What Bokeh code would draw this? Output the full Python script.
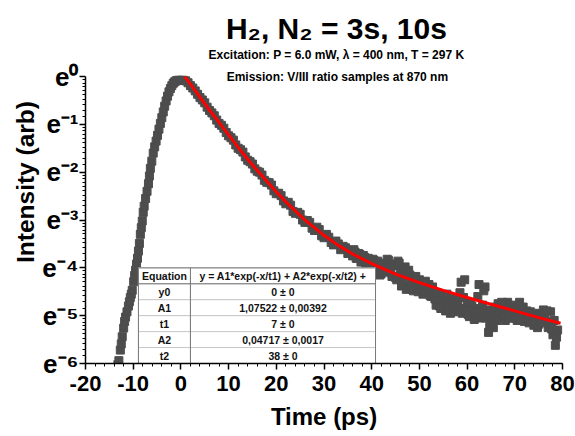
import math
from bokeh.plotting import figure
from bokeh.models import FixedTicker, Label
from bokeh.core.properties import value
from bokeh.embed import file_html
from bokeh.resources import INLINE

# ---------------- texts ----------------
title_text = "H₂, N₂ = 3s, 10s"
subtitle1 = "Excitation: P = 6.0 mW, λ = 400 nm, T = 297 K"
subtitle2 = "Emission: V/III ratio samples at 870 nm"
x_label = "Time (ps)"
y_label = "Intensity (arb)"

x_ticks = [-20, -10, 0, 10, 20, 30, 40, 50, 60, 70, 80]
y_ticks = [-6, -5, -4, -3, -2, -1, 0]          # exponent of e
y_tick_labels = ["e⁻⁶", "e⁻⁵", "e⁻⁴", "e⁻³", "e⁻²", "e⁻¹", "e⁰"]

# ---------------- data (ln of intensity) ----------------
rise_time = [-13.2, -13.0, -12.7, -12.5, -12.3, -12.0, -11.8, -11.6, -11.3, -11.0,
             -10.8, -10.6, -10.4, -10.2, -9.9, -9.7, -9.5, -9.3, -9.1, -8.9,
             -8.7, -8.5, -8.3, -8.1, -7.9, -7.7, -7.4, -7.1, -6.8, -6.6,
             -6.4, -6.1, -5.8, -5.5, -5.2, -4.9, -4.6, -4.3, -4.0, -3.7,
             -3.4, -3.1, -2.8, -2.5, -2.2, -1.9, -1.6, -1.3, -1.0, -0.7,
             -0.4, -0.1, 0.2, 0.5]
rise_ln = [-6.02, -5.94, -5.72, -5.59, -5.44, -5.26, -5.12, -5.03, -4.92, -4.80,
           -4.71, -4.62, -4.55, -4.47, -4.29, -4.16, -4.05, -3.92, -3.80, -3.65,
           -3.49, -3.30, -3.16, -3.02, -2.84, -2.71, -2.55, -2.40, -2.24, -2.08,
           -1.92, -1.77, -1.60, -1.47, -1.35, -1.23, -1.10, -0.98, -0.86, -0.74,
           -0.62, -0.51, -0.41, -0.32, -0.25, -0.19, -0.14, -0.11, -0.09, -0.08,
           -0.08, -0.08, -0.08, -0.08]

decay_time = [1.0, 1.5, 2.0, 2.5, 3.0, 3.5, 4.0, 4.5, 5.0, 5.5, 6.0, 6.5, 7.0, 7.5, 8.0,
              8.5, 9.0, 9.5, 10.0, 10.5, 11.0, 11.5, 12.0, 12.5, 13.0, 13.5, 14.0, 14.5,
              15.0, 15.5, 16.0, 16.5, 17.0, 17.5, 18.0, 18.5, 19.0, 19.5, 20.0, 20.5,
              21.0, 21.5, 22.0, 22.5, 23.0, 23.5, 24.0, 24.5, 25.0, 25.5, 26.0, 26.5,
              27.0, 27.5, 28.0, 28.5, 29.0, 29.5, 30.0, 30.5, 31.0, 31.5, 32.0, 32.5,
              33.0, 33.5, 34.0, 34.5, 35.0, 35.5, 36.0, 36.5, 37.0, 37.5, 38.0, 38.5,
              39.0, 39.5, 40.0, 40.5, 41.0, 41.5, 42.0, 42.5, 43.0, 43.5, 44.0, 44.5,
              45.0, 45.5, 46.0, 46.5, 47.0, 47.5, 48.0, 48.5, 49.0, 49.5, 50.0, 50.5,
              51.0, 51.5, 52.0, 52.5, 53.0, 53.5, 54.0, 54.5, 55.0, 55.5, 56.0, 56.5,
              57.0, 57.5, 58.0, 58.5, 59.0, 59.5, 60.0, 60.5, 61.0, 61.5, 62.0, 62.5,
              63.0, 63.5, 64.0, 64.5, 65.0, 65.5, 66.0, 66.5, 67.0, 67.5, 68.0, 68.5,
              69.0, 69.5, 70.0, 70.5, 71.0, 71.5, 72.0, 72.5, 73.0, 73.5, 74.0, 74.5,
              75.0, 75.5, 76.0, 76.5, 77.0, 77.5, 78.0, 78.5, 79.0]
decay_ln = [-0.09, -0.13, -0.19, -0.24, -0.30, -0.37, -0.44, -0.49, -0.55, -0.64, -0.71, -0.76,
            -0.82, -0.91, -0.98, -1.02, -1.08, -1.17, -1.24, -1.28, -1.33, -1.43, -1.50, -1.53,
            -1.58, -1.68, -1.75, -1.78, -1.83, -1.93, -1.98, -2.00, -2.06, -2.17, -2.21, -2.22,
            -2.27, -2.39, -2.45, -2.44, -2.49, -2.60, -2.66, -2.63, -2.69, -2.82, -2.86, -2.84,
            -2.88, -3.00, -3.05, -3.01, -3.05, -3.17, -3.22, -3.15, -3.20, -3.33, -3.37, -3.30,
            -3.36, -3.47, -3.52, -3.44, -3.50, -3.62, -3.55, -3.58, -3.70, -3.64, -3.75, -3.67,
            -3.80, -3.72, -3.86, -3.78, -3.92, -3.83, -3.97, -3.85, -4.05, -3.90, -4.12, -3.95,
            -4.02, -3.84, -4.10, -3.92, -4.20, -3.86, -4.05, -4.28, -3.98, -4.40, -4.15, -4.45,
            -4.22, -4.36, -4.25, -4.48, -4.30, -4.52, -4.35, -4.60, -4.50, -4.78, -4.55, -4.85,
            -4.62, -4.90, -4.70, -4.95, -4.65, -4.88, -4.75, -4.52, -4.95, -4.25, -4.70, -5.02,
            -4.80, -5.08, -4.85, -4.35, -4.95, -4.48, -5.05, -5.35, -4.90, -5.25, -4.95, -4.75,
            -5.05, -4.80, -5.10, -4.72, -4.95, -5.05, -4.80, -5.10, -4.72, -4.98, -5.12, -4.90,
            -5.15, -5.00, -5.20, -4.95, -5.18, -5.05, -4.88, -5.12, -5.25, -4.92, -5.40, -5.62,
            -5.30]

# additional (interleaved) samples in the noisy tail
tail_time = [36.25, 36.75, 37.25, 37.75, 38.25, 38.75, 39.25, 39.75, 40.25, 40.75,
             41.25, 41.75, 42.25, 42.75, 43.25, 43.75, 44.25, 44.75, 45.25, 45.75,
             46.25, 46.75, 47.25, 47.75, 48.25, 48.75, 49.25, 49.75, 50.25, 50.75,
             51.25, 51.75, 52.25, 52.75, 53.25, 53.75, 54.25, 54.75, 55.25, 55.75,
             56.25, 56.75, 57.25, 57.75, 58.25, 58.75, 59.25, 59.75, 60.25, 60.75,
             61.25, 61.75, 62.25, 62.75, 63.25, 63.75, 64.25, 64.75, 65.25, 65.75,
             66.25, 66.75, 67.25, 67.75, 68.25, 68.75, 69.25, 69.75, 70.25, 70.75,
             71.25, 71.75, 72.25, 72.75, 73.25, 73.75, 74.25, 74.75, 75.25, 75.75,
             76.25, 76.75, 77.25, 77.75, 78.25, 78.75]
tail_ln = [-3.62, -3.80, -3.70, -3.88, -3.74, -3.95, -3.80, -3.98, -3.82, -4.10,
           -3.86, -4.15, -3.92, -4.08, -3.82, -3.98, -4.18, -3.95, -4.25, -3.90,
           -4.38, -4.12, -4.45, -4.05, -4.30, -4.48, -4.18, -4.50, -4.35, -4.55,
           -4.28, -4.45, -4.58, -4.40, -4.65, -4.52, -4.80, -4.58, -4.75, -4.55,
           -4.85, -4.62, -4.92, -4.70, -4.90, -4.30, -4.62, -4.85, -4.98, -4.72,
           -4.90, -4.95, -4.60, -5.05, -4.78, -4.40, -4.88, -5.20, -5.05, -4.82,
           -5.10, -4.90, -4.72, -5.00, -4.85, -5.05, -4.78, -4.92, -5.05, -4.85,
           -5.08, -4.82, -4.95, -5.08, -4.92, -5.12, -5.02, -5.25, -4.98, -5.15,
           -5.02, -4.90, -5.15, -5.28, -5.10, -5.45]

fit_time = [0.8, 2, 4, 6, 8, 10, 12, 14, 16, 18, 20, 22, 24, 26, 28, 30, 33, 36, 40,
            45, 50, 55, 60, 65, 70, 75, 79.6]
fit_ln = [0.0, -0.16, -0.43, -0.70, -0.96, -1.22, -1.48, -1.73, -1.96, -2.19, -2.41,
          -2.62, -2.81, -3.00, -3.16, -3.32, -3.53, -3.71, -3.91, -4.13, -4.31, -4.47,
          -4.62, -4.76, -4.90, -5.04, -5.16]

table_names = ["Equation", "y0", "A1", "t1", "A2", "t2"]
table_values = ["y = A1*exp(-x/t1) + A2*exp(-x/t2) +", "0 ± 0", "1,07522 ± 0,00392",
                "7 ± 0", "0,04717 ± 0,0017", "38 ± 0"]

FONT = "Liberation Sans"

# frame spans the full height; the axis itself is bounded to e^-6..e^0
p = figure(width=575, height=436, x_range=(-20, 80), y_range=(-6, 1.59),
           output_backend="svg", toolbar_location=None,
           min_border_left=85, min_border_right=13, min_border_top=0, min_border_bottom=73)
p.outline_line_color = None
p.xgrid.visible = False
p.ygrid.visible = False
p.background_fill_color = "white"

# scatter data
p.scatter(rise_time + decay_time + tail_time, rise_ln + decay_ln + tail_ln,
          marker="square", size=8, fill_color="#4d4d4d", line_color="#4d4d4d")
# fit
p.line(fit_time, fit_ln, line_color="#ff0000", line_width=3)

# ---------------- table (anchored in data space) ----------------
t_left, t_mid, t_right, t_top, row_h = -8.9, 2.0, 40.8, -4.0, 1.0 / 3.0
n = len(table_names)
tops = [t_top - i * row_h for i in range(n)]
bots = [t_top - (i + 1) * row_h for i in range(n)]
p.quad(left=[t_left] * n + [t_mid] * n, right=[t_mid] * n + [t_right] * n,
       top=tops + tops, bottom=bots + bots,
       fill_color="white", line_color="#c8c8c8", line_width=1)
p.quad(left=[t_left], right=[t_right], top=[t_top], bottom=[bots[-1]],
       fill_color=None, line_color="#7a7a7a", line_width=1)
p.segment(x0=[t_mid], y0=[t_top], x1=[t_mid], y1=[bots[-1]], line_color="#7a7a7a", line_width=1)
p.segment(x0=[t_left], y0=[bots[0]], x1=[t_right], y1=[bots[0]], line_color="#7a7a7a", line_width=1)
mids = [(a + b) / 2 for a, b in zip(tops, bots)]
p.text(x=[(t_left + t_mid) / 2] * n, y=mids, text=table_names,
       text_font=value(FONT), text_font_style="bold", text_font_size="10.5px",
       text_align="center", text_baseline="middle", text_color="#111111")
p.text(x=[(t_mid + t_right) / 2] * n, y=mids, text=table_values,
       text_font=value(FONT), text_font_style="bold", text_font_size="10.5px",
       text_align="center", text_baseline="middle", text_color="#111111")

# ---------------- axes ----------------
p.xaxis.ticker = FixedTicker(ticks=x_ticks, minor_ticks=[x_ticks[0] + 2 * i for i in range(51)])
minor_y = []
for k in y_ticks[:-1]:
    lo, hi = math.exp(k), math.exp(k + 1)
    for j in range(1, 10):
        minor_y.append(math.log(lo + j * (hi - lo) / 10))
p.yaxis.ticker = FixedTicker(ticks=y_ticks, minor_ticks=minor_y)
p.yaxis.bounds = (y_ticks[0], y_ticks[-1])
p.yaxis.major_label_overrides = dict(zip(y_ticks, y_tick_labels))
p.xaxis.major_label_overrides = {t: str(t) for t in x_ticks}

for ax in (p.xaxis[0], p.yaxis[0]):
    ax.axis_line_width = 1.5
    ax.axis_line_color = "black"
    ax.major_tick_line_color = "black"
    ax.minor_tick_line_color = "black"
    ax.major_tick_line_width = 1.5
    ax.major_tick_in = 0
    ax.major_tick_out = 6
    ax.minor_tick_in = 0
    ax.minor_tick_out = 3
    ax.major_label_text_font = FONT
    ax.major_label_text_font_style = "bold"
    ax.major_label_text_color = "black"
    ax.axis_label_text_font = FONT
    ax.axis_label_text_font_style = "bold"
    ax.axis_label_text_color = "black"

p.xaxis.axis_label = x_label
p.xaxis.major_label_text_font_size = "22px"
p.xaxis.axis_label_text_font_size = "24px"
p.xaxis.major_label_standoff = 6
p.xaxis.axis_label_standoff = 9

p.yaxis.axis_label = y_label
p.yaxis.major_label_text_font_size = "26px"
p.yaxis.axis_label_text_font_size = "24.5px"
p.yaxis.major_label_standoff = 1
p.yaxis.axis_label_standoff = 0

# ---------------- titles (data space above e^0) ----------------
p.add_layout(Label(x=32.6, y=1.0, text=title_text,
                   text_font=FONT, text_font_style="bold", text_font_size="30px",
                   text_align="center", text_baseline="alphabetic", text_color="black"))
p.add_layout(Label(x=32.6, y=0.46, text=subtitle1,
                   text_font=FONT, text_font_style="bold", text_font_size="12px",
                   text_align="center", text_baseline="middle", text_color="black"))
p.add_layout(Label(x=32.8, y=-0.01, text=subtitle2,
                   text_font=FONT, text_font_style="bold", text_font_size="12px",
                   text_align="center", text_baseline="middle", text_color="black"))

open("out.html", "w").write(file_html(p, INLINE))
